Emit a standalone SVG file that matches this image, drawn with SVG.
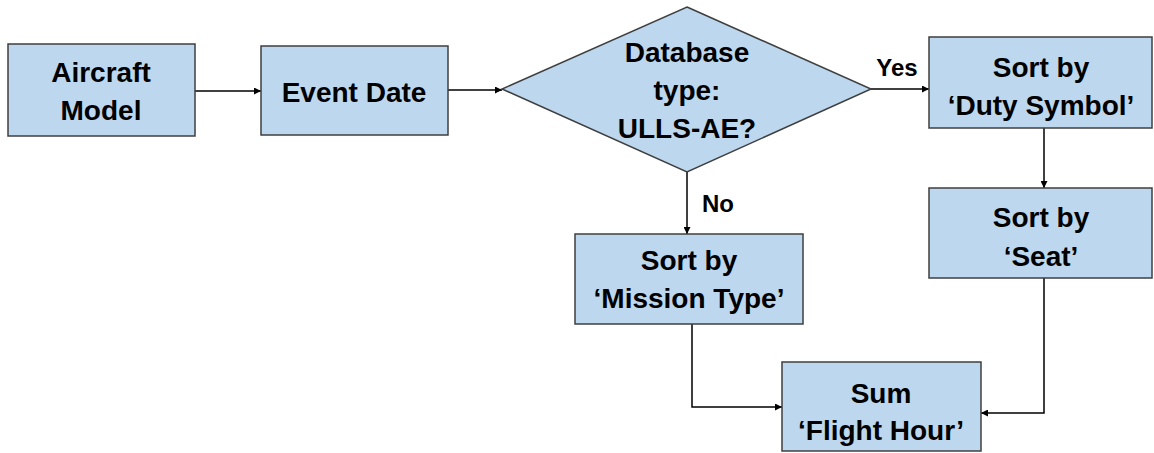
<svg xmlns="http://www.w3.org/2000/svg" width="1154" height="453" viewBox="0 0 1154 453">
<style>
.n{fill:#BDD7EE;stroke:#3f3f3f;stroke-width:1.5}
.t{font-family:"Liberation Sans",Arial,sans-serif;font-weight:bold;font-size:28px;fill:#000;text-anchor:middle}
.l{font-family:"Liberation Sans",Arial,sans-serif;font-weight:bold;font-size:24px;fill:#000;text-anchor:middle}
.c{fill:none;stroke:#000;stroke-width:1.5}
</style>
<defs>
<marker id="a" viewBox="0 0 10 10" refX="10" refY="5" markerWidth="7" markerHeight="7" markerUnits="userSpaceOnUse" orient="auto">
<path d="M0,0 L10,5 L0,10 z" fill="#000"/>
</marker>
</defs>
<g id="connectors">
<path class="c" d="M195,91 H261" marker-end="url(#a)"/>
<path class="c" d="M448,90 H502" marker-end="url(#a)"/>
<path class="c" d="M871,89 H929" marker-end="url(#a)"/>
<path class="c" d="M687,172 V234" marker-end="url(#a)"/>
<path class="c" d="M1044,128 V188" marker-end="url(#a)"/>
<path class="c" d="M692,324 V407 H782" marker-end="url(#a)"/>
<path class="c" d="M1044,278 V413 H981" marker-end="url(#a)"/>
<text class="l" x="897" y="76">Yes</text>
<text class="l" x="718" y="212">No</text>
</g>
<g id="aircraft-model">
<rect class="n" x="8" y="44" width="187" height="92"/>
<text class="t" x="101" y="82">Aircraft</text>
<text class="t" x="101" y="120">Model</text>
</g>
<g id="event-date">
<rect class="n" x="261" y="46" width="187" height="89"/>
<text class="t" x="354" y="102">Event Date</text>
</g>
<g id="database-type">
<polygon class="n" points="687,7 871,89 687,172 502,89"/>
<text class="t" x="687" y="62">Database</text>
<text class="t" x="687" y="100">type:</text>
<text class="t" x="687" y="138">ULLS-AE?</text>
</g>
<g id="sort-duty-symbol">
<rect class="n" x="929" y="37" width="223" height="91"/>
<text class="t" x="1041" y="77">Sort by</text>
<text class="t" x="1041" y="115">‘Duty Symbol’</text>
</g>
<g id="sort-seat">
<rect class="n" x="929" y="188" width="223" height="90"/>
<text class="t" x="1041" y="227">Sort by</text>
<text class="t" x="1041" y="266">‘Seat’</text>
</g>
<g id="sort-mission-type">
<rect class="n" x="575" y="234" width="228" height="90"/>
<text class="t" x="689" y="270">Sort by</text>
<text class="t" x="689" y="308">‘Mission Type’</text>
</g>
<g id="sum-flight-hour">
<rect class="n" x="782" y="362" width="199" height="89"/>
<text class="t" x="881" y="403">Sum</text>
<text class="t" x="881" y="440">‘Flight Hour’</text>
</g>
</svg>
